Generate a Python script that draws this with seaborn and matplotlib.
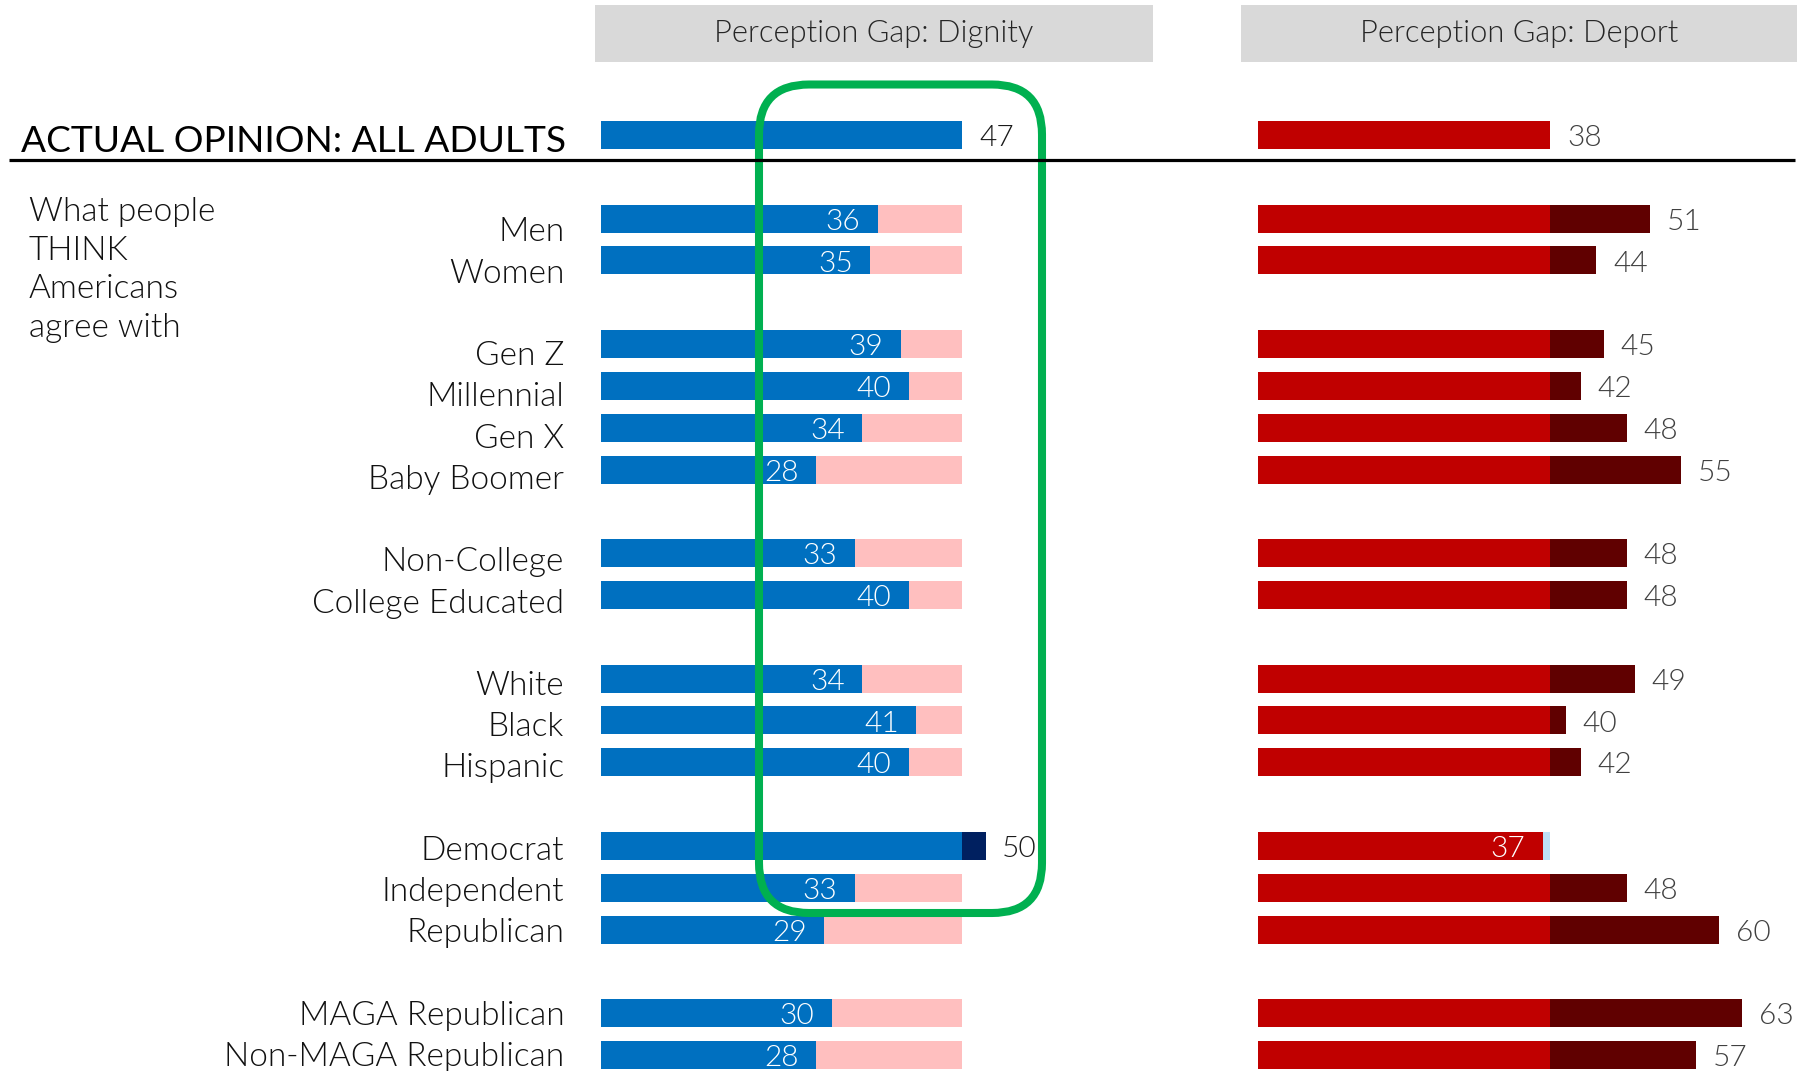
import numpy as np
import pandas as pd
import matplotlib
matplotlib.use("Agg")
import matplotlib.pyplot as plt
import seaborn as sns
from matplotlib.patches import FancyBboxPatch, Rectangle

# --- data ---
groups = [
    ["Men", "Women"],
    ["Gen Z", "Millennial", "Gen X", "Baby Boomer"],
    ["Non-College", "College Educated"],
    ["White", "Black", "Hispanic"],
    ["Democrat", "Independent", "Republican"],
    ["MAGA Republican", "Non-MAGA Republican"],
]
dignity_think = [36, 35, 39, 40, 34, 28, 33, 40, 34, 41, 40, 50, 33, 29, 30, 28]
deport_think = [51, 44, 45, 42, 48, 55, 48, 48, 49, 40, 42, 37, 48, 60, 63, 57]
dignity_actual = 47
deport_actual = 38

BLUE, PINK, NAVY = "#0070C0", "#FFBFBF", "#002060"
RED, DARKRED, LIGHTBLUE = "#C00000", "#600000", "#BDE0F7"
GREEN = "#00B050"

# slot positions: actual row at 0, blank slot before every group
labels, positions = [], []
slot = 0
for g in groups:
    slot += 1
    for lab in g:
        slot += 1
        labels.append(lab)
        positions.append(slot)
last_slot = slot

df = pd.DataFrame({"group": labels, "pos": positions,
                   "dignity": dignity_think, "deport": deport_think})
actual = pd.DataFrame({"group": ["ACTUAL"], "pos": [0],
                       "dignity": [dignity_actual], "deport": [deport_actual]})
df = pd.concat([actual, df], ignore_index=True)
df["is_actual"] = df["pos"] == 0

df["dig_front"] = np.minimum(df["dignity"], dignity_actual)
df["dig_back"] = np.maximum(df["dignity"], dignity_actual)
df["dig_gap"] = np.where(df["is_actual"], "none",
                         np.where(df["dignity"] < dignity_actual, "under", "over"))
df["dep_front"] = np.minimum(df["deport"], deport_actual)
df["dep_back"] = np.maximum(df["deport"], deport_actual)
df["dep_gap"] = np.where(df["is_actual"], "none",
                         np.where(df["deport"] > deport_actual, "over", "under"))

# --- figure ---
sns.set_style("white")
plt.rcParams["font.family"] = ["Lato", "DejaVu Sans"]

W, H = 1816, 1071
fig = plt.figure(figsize=(W / 100, H / 100), dpi=100)

row0_px, row_px = 135.0, 41.82
ylim = ((H - row0_px) / row_px, -row0_px / row_px)

px_per_unit = 7.69
dig_left, dep_left = 601, 1258
ax1 = fig.add_axes([dig_left / W, 0, (1180 - dig_left) / W, 1])
ax2 = fig.add_axes([dep_left / W, 0, (W - dep_left) / W, 1])
ax1.set_xlim(0, (1180 - dig_left) / px_per_unit)
ax2.set_xlim(0, (W - dep_left) / px_per_unit)

bar_kw = dict(y="pos", orient="y", native_scale=True, width=0.67,
              errorbar=None, linewidth=0, saturation=1)
sns.barplot(data=df, x="dig_back", hue="dig_gap", ax=ax1, dodge=False, legend=False,
            palette={"none": BLUE, "under": PINK, "over": NAVY}, **bar_kw)
sns.barplot(data=df, x="dig_front", color=BLUE, ax=ax1, **bar_kw)
sns.barplot(data=df, x="dep_back", hue="dep_gap", ax=ax2, dodge=False, legend=False,
            palette={"none": RED, "under": LIGHTBLUE, "over": DARKRED}, **bar_kw)
sns.barplot(data=df, x="dep_front", color=RED, ax=ax2, **bar_kw)

for ax in (ax1, ax2):
    ax.set_ylim(*ylim)
    ax.set_axis_off()

FS = 21.5
LIGHT = 300
txt = dict(fontsize=FS, fontweight=LIGHT, va="center", textcoords="offset points")

# value labels
for _, r in df.iterrows():
    v = r["dignity"]
    if v >= dignity_actual:
        ax1.annotate(str(v), (v, r["pos"]), xytext=(12, -2.3), ha="left", color="#1a1a1a", **txt)
    else:
        ax1.annotate(str(v), (v, r["pos"]), xytext=(-12.5, -2.3), ha="right", color="white", **txt)
    v = r["deport"]
    if v >= deport_actual:
        ax2.annotate(str(v), (v, r["pos"]), xytext=(12, -2.3), ha="left", color="#404040", **txt)
    else:
        ax2.annotate(str(v), (v, r["pos"]), xytext=(-12.5, -2.3), ha="right", color="white", **txt)

# category labels (drift slightly lower toward the top, as in the source slide)
for lab, p in zip(labels, positions):
    ax1.annotate(lab, (0, p + 0.05 + 0.28 * (last_slot - p) / (last_slot - 2)),
                 xytext=(-26.5, 0), ha="right", color="#111111",
                 **{**txt, "fontsize": 24})

# overlay for headers, rule, callout box and side text
ax0 = fig.add_axes([0, 0, 1, 1], zorder=10)
ax0.set_xlim(0, W)
ax0.set_ylim(H, 0)
ax0.set_axis_off()
ax0.patch.set_alpha(0)

for x0, x1, title in [(595, 1153, "Perception Gap: Dignity"), (1241, 1797, "Perception Gap: Deport")]:
    ax0.add_patch(Rectangle((x0, 5), x1 - x0, 57, color="#D9D9D9", lw=0))
    ax0.text((x0 + x1) / 2, 34, title, ha="center", va="center", fontsize=22.2,
             fontweight=LIGHT, color="#262626")

ax0.plot([9, 1795], [160, 160], color="black", lw=2.3, solid_capstyle="butt")
ax0.text(21, 142, "ACTUAL OPINION: ALL ADULTS", ha="left", va="center",
         fontsize=26.7, color="black")
ax0.text(29, 270, "What people\nTHINK\nAmericans\nagree with", ha="left", va="center",
         fontsize=24, fontweight=LIGHT, color="#111111", linespacing=1.37)

ax0.add_patch(FancyBboxPatch((759, 84.5), 283, 828.5,
                             boxstyle="round,pad=0,rounding_size=50",
                             fill=False, edgecolor=GREEN, lw=5.8))

fig.savefig("out.png", dpi=100)
